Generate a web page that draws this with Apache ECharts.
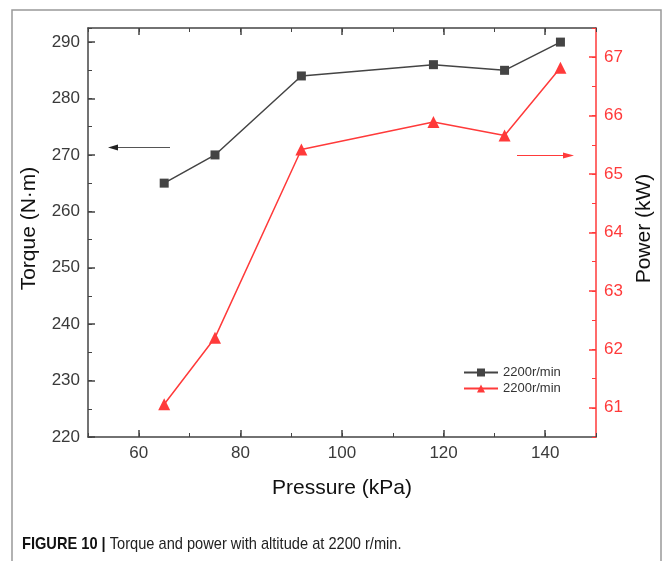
<!DOCTYPE html>
<html>
<head>
<meta charset="utf-8">
<script src="https://cdn.jsdelivr.net/npm/echarts@6/dist/echarts.min.js"></script>
<style>
  html, body { margin: 0; padding: 0; background: #fff; }
  #chart { width: 664px; height: 561px; }
</style>
</head>
<body>
<div id="chart"></div>
<script>
// data
const pressure = [65, 75, 92, 118, 132, 143];
const torque = [265, 270, 284, 286, 285, 290];
const power = [61.06, 62.2, 65.42, 65.89, 65.66, 66.82];
const seriesName = '2200r/min';

// tick labels
const xTicks = [60, 80, 100, 120, 140];
const torqueTicks = [220, 230, 240, 250, 260, 270, 280, 290];
const powerTicks = [61, 62, 63, 64, 65, 66, 67];

const black = '#444';
const red = '#ff3a3a';
const font = 'Liberation Sans, Arial, sans-serif';
const chart = echarts.init(document.getElementById('chart'));

const tickFont = { fontFamily: font, fontSize: 17 };
const nameFont = { fontFamily: font, fontSize: 21, color: '#111' };

// axis with long ticks + labels at given values
function majorAxis(extra, values, color, showLabel) {
  return Object.assign({
    type: 'value',
    axisLine: { show: true, lineStyle: { color: color, width: 1.5 } },
    axisTick: { inside: true, length: 7, customValues: values, lineStyle: { color: color, width: 1.5 } },
    axisLabel: showLabel ? { ...tickFont, color: color === red ? red : '#3a3a3a', customValues: values } : { show: false },
    splitLine: { show: false }
  }, extra);
}
// overlay axis that only draws short minor ticks
function minorAxis(extra, color) {
  return Object.assign({
    type: 'value',
    axisLine: { show: false },
    axisTick: { inside: true, length: 4, lineStyle: { color: color, width: 1 } },
    axisLabel: { show: false },
    splitLine: { show: false }
  }, extra);
}

chart.setOption({
  animation: false,
  grid: { left: 88, top: 28, width: 508, height: 409 },
  legend: {
    left: 458, top: 361, orient: 'vertical', itemGap: 3,
    itemWidth: 34, itemHeight: 10,
    textStyle: { color: '#333', fontSize: 13, fontFamily: font },
    data: [{ name: 'torque' }, { name: 'power' }],
    formatter: () => seriesName
  },
  xAxis: [
    majorAxis({
      min: 50, max: 150, interval: 10, position: 'bottom',
      name: 'Pressure (kPa)', nameLocation: 'middle', nameGap: 41, nameTextStyle: nameFont
    }, xTicks, black, true),
    majorAxis({ min: 50, max: 150, interval: 10, position: 'top' }, xTicks, black, false),
    minorAxis({ min: 50, max: 150, interval: 10, position: 'bottom' }, black),
    minorAxis({ min: 50, max: 150, interval: 10, position: 'top' }, black)
  ],
  yAxis: [
    majorAxis({
      min: 220, max: 292.5, interval: 5, position: 'left',
      name: 'Torque (N·m)', nameLocation: 'middle', nameGap: 48, nameRotate: 90,
      nameTextStyle: { ...nameFont, padding: [0, 0, 0, 8] }
    }, torqueTicks, black, true),
    majorAxis({
      min: 60.5, max: 67.5, interval: 0.5, position: 'right',
      name: 'Power (kW)', nameLocation: 'middle', nameGap: 36, nameRotate: 90,
      nameTextStyle: { ...nameFont, padding: [0, 0, 0, 8] }
    }, powerTicks, red, true),
    minorAxis({ min: 220, max: 292.5, interval: 5, position: 'left' }, black),
    minorAxis({ min: 60.5, max: 67.5, interval: 0.5, position: 'right' }, red)
  ],
  series: [
    {
      name: 'torque', type: 'line', yAxisIndex: 0,
      data: pressure.map((p, i) => [p, torque[i]]),
      symbol: 'rect', symbolSize: 9,
      lineStyle: { color: black, width: 1.5 },
      itemStyle: { color: black }
    },
    {
      name: 'power', type: 'line', yAxisIndex: 1,
      data: pressure.map((p, i) => [p, power[i]]),
      symbol: 'triangle', symbolSize: 12,
      lineStyle: { color: red, width: 1.5 },
      itemStyle: { color: red }
    }
  ],
  graphic: [
    // figure frame
    { type: 'rect', shape: { x: 12, y: 10, width: 649, height: 600 }, style: { fill: null, stroke: '#999', lineWidth: 1.5 }, z: -1 },
    // left arrow (torque axis)
    { type: 'line', shape: { x1: 170, y1: 147.5, x2: 116, y2: 147.5 }, style: { stroke: '#555', lineWidth: 1 } },
    { type: 'polygon', shape: { points: [[108, 147.5], [118, 144.5], [118, 150.5]] }, style: { fill: '#222' } },
    // right arrow (power axis)
    { type: 'line', shape: { x1: 517, y1: 155.5, x2: 566, y2: 155.5 }, style: { stroke: red, lineWidth: 1 } },
    { type: 'polygon', shape: { points: [[574, 155.5], [563, 152.5], [563, 158.5]] }, style: { fill: red } },
    // caption (condensed look via horizontal scale)
    {
      type: 'text', x: 22, y: 536, scaleX: 0.86,
      style: {
        text: '{b|FIGURE 10 |} Torque and power with altitude at 2200 r/min.',
        rich: {
          b: { fontWeight: 'bold', fontSize: 17, fontFamily: font, fill: '#111' }
        },
        fontSize: 17, fontFamily: font, fill: '#222'
      }
    }
  ]
});
</script>
</body>
</html>
